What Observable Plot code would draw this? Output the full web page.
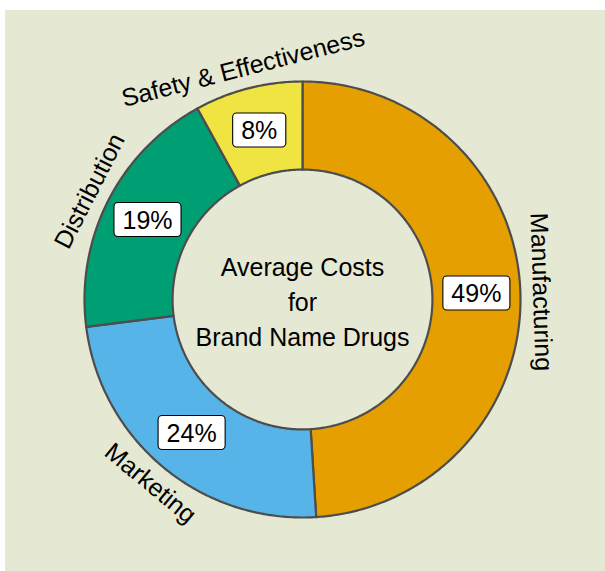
<!DOCTYPE html>
<html>
<head>
<meta charset="utf-8">
<script src="https://cdn.jsdelivr.net/npm/d3@7"></script>
<script src="https://cdn.jsdelivr.net/npm/@observablehq/plot@0.6"></script>
<style>
  html, body { margin: 0; padding: 0; background: #ffffff; }
  #wrap { position: absolute; left: 5px; top: 10px; width: 600px; height: 561px; background: #e5e8d3; }
  #wrap svg { display: block; }
</style>
</head>
<body>
<div id="wrap"></div>
<script>
// ---- data ----
const categories = ["Manufacturing", "Marketing", "Distribution", "Safety & Effectiveness"];
const shares = [49, 24, 19, 8];
const colors = ["#E69F00", "#56B4E9", "#009E73", "#F0E442"];
const centerLines = ["Average Costs", "for", "Brand Name Drugs"];

// ---- geometry (data units: outer radius = 1) ----
const innerR = 0.596;
const labelR = 1.095;
const pctR = (1 + innerR) / 2;

const arcs = d3.pie().sort(null).value(d => d)(shares);

const ringPts = [];
arcs.forEach((a, i) => {
  const n = Math.max(8, Math.ceil((a.endAngle - a.startAngle) / 0.01));
  for (let k = 0; k <= n; k++) {
    const t = a.startAngle + (a.endAngle - a.startAngle) * k / n;
    ringPts.push({cat: categories[i], x: Math.sin(t), y: Math.cos(t)});
  }
  for (let k = n; k >= 0; k--) {
    const t = a.startAngle + (a.endAngle - a.startAngle) * k / n;
    ringPts.push({cat: categories[i], x: innerR * Math.sin(t), y: innerR * Math.cos(t)});
  }
});

const labelData = arcs.map((a, i) => {
  const m = (a.startAngle + a.endAngle) / 2;
  let deg = m * 180 / Math.PI;
  if (deg > 90 && deg <= 270) deg -= 180;
  else if (deg > 270) deg -= 360;
  return {
    cat: categories[i],
    pct: shares[i] + "%",
    lx: labelR * Math.sin(m), ly: labelR * Math.cos(m),
    px: pctR * Math.sin(m), py: pctR * Math.cos(m),
    rot: deg
  };
});

const font = "'Liberation Sans', Arial, Helvetica, sans-serif";
const fs = 25;

const chart = Plot.plot({
  width: 600,
  height: 561,
  margin: 0,
  x: {domain: [-1, 1], range: [297 - 218, 297 + 218], axis: null},
  y: {domain: [-1, 1], range: [289 + 218, 289 - 218], axis: null},
  color: {domain: categories, range: colors},
  style: {background: "transparent", fontFamily: font, fontSize: fs + "px", color: "#000"},
  marks: [
    Plot.line(ringPts, {
      x: "x", y: "y", z: "cat", fill: "cat",
      stroke: "#4d4d4d", strokeWidth: 2.2, curve: "linear-closed", strokeLinejoin: "round"
    }),
    Plot.text([centerLines.join("\n")], {
      x: () => 0, y: () => 0, text: d => d,
      fontSize: fs, lineHeight: 1.4, fill: "#000", textAnchor: "middle", lineAnchor: "middle"
    }),
    Plot.text(labelData, {
      x: "lx", y: "ly", text: "cat", rotate: "rot",
      fontSize: fs, fill: "#000", textAnchor: "middle", lineAnchor: "middle"
    }),
    Plot.text(labelData, {
      x: "px", y: "py", text: "pct",
      fontSize: fs, fill: "#000", textAnchor: "middle", lineAnchor: "middle",
      ariaDescription: "pct-labels"
    })
  ]
});

document.getElementById("wrap").appendChild(chart);

// white rounded boxes behind the percentage labels
const svgNS = "http://www.w3.org/2000/svg";
document.querySelectorAll('g[aria-description="pct-labels"] text').forEach(t => {
  const b = t.getBBox();
  const r = document.createElementNS(svgNS, "rect");
  const padX = 8.5, padY = 3;
  r.setAttribute("x", b.x - padX);
  r.setAttribute("y", b.y - padY);
  r.setAttribute("width", b.width + 2 * padX);
  r.setAttribute("height", b.height + 2 * padY);
  r.setAttribute("rx", 4);
  r.setAttribute("fill", "#ffffff");
  r.setAttribute("stroke", "#000000");
  r.setAttribute("stroke-width", 1.1);
  const tr = t.getAttribute("transform");
  if (tr) r.setAttribute("transform", tr);
  t.parentNode.insertBefore(r, t);
});
</script>
</body>
</html>
